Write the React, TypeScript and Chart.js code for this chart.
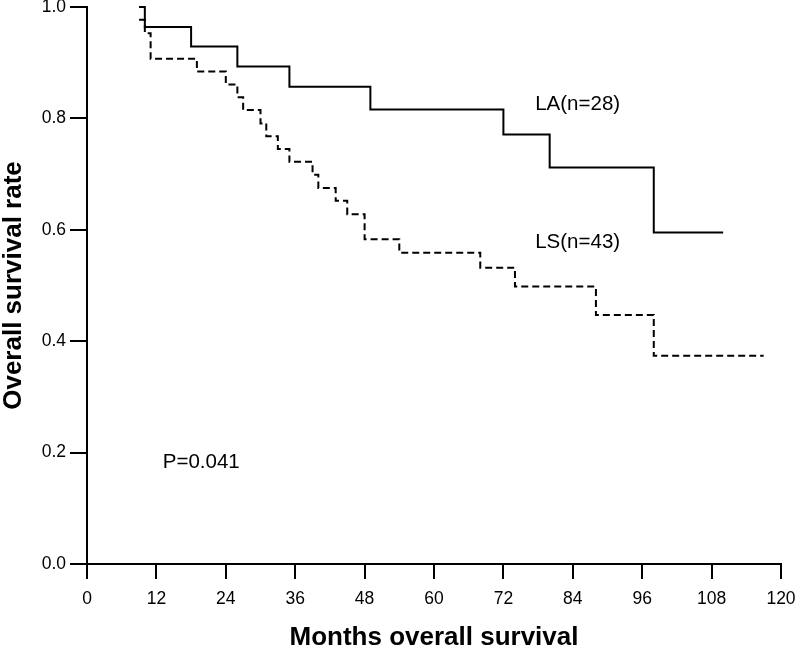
import React, { useEffect, useRef } from "react";
import { Chart, registerables } from "chart.js";

Chart.register(...registerables);

// LA group (solid): times (months) and survival after each step
const laTimes = [9, 10, 18, 26, 35, 49, 72, 80, 98, 110];
const laSurvival = [1.0, 0.964, 0.929, 0.893, 0.857, 0.816, 0.771, 0.712, 0.595, 0.595];

// LS group (dashed)
const lsTimes = [9, 10, 11, 19, 24, 26, 27, 30, 31, 33, 35, 39, 40, 43, 45, 48, 54, 68, 74, 88, 98, 117];
const lsSurvival = [0.977, 0.953, 0.907, 0.884, 0.861, 0.838, 0.815, 0.791, 0.768, 0.745, 0.722, 0.699, 0.675, 0.652, 0.628, 0.583, 0.559, 0.532, 0.498, 0.447, 0.374, 0.374];

const xTickValues = [0, 12, 24, 36, 48, 60, 72, 84, 96, 108, 120];
const yTickValues = [0.0, 0.2, 0.4, 0.6, 0.8, 1.0];

const xTitle = "Months overall survival";
const yTitle = "Overall survival rate";
const laLabel = "LA(n=28)";
const lsLabel = "LS(n=43)";
const pLabel = "P=0.041";

const FONT = "'Liberation Sans', Arial, Helvetica, sans-serif";

const textPlugin = {
  id: "kmText",
  afterDraw(chart: any) {
    const { ctx, chartArea, scales } = chart;
    const xs = scales.x;
    const ys = scales.y;
    ctx.save();
    ctx.fillStyle = "#000";
    ctx.textBaseline = "alphabetic";
    // axis titles
    ctx.font = `bold 26px ${FONT}`;
    ctx.textAlign = "center";
    ctx.fillText(xTitle, (chartArea.left + chartArea.right) / 2, 645);
    ctx.save();
    ctx.translate(21, (chartArea.top + chartArea.bottom) / 2);
    ctx.rotate(-Math.PI / 2);
    ctx.fillText(yTitle, 0, 0);
    ctx.restore();
    // annotations
    ctx.font = `20.5px ${FONT}`;
    ctx.textAlign = "left";
    ctx.fillText(laLabel, xs.getPixelForValue(77.5), ys.getPixelForValue(0.815));
    ctx.fillText(lsLabel, xs.getPixelForValue(77.5), ys.getPixelForValue(0.568));
    ctx.fillText(pLabel, xs.getPixelForValue(13.1), ys.getPixelForValue(0.173));
    ctx.restore();
  },
};

export default function App() {
  const canvasRef = useRef<HTMLCanvasElement | null>(null);

  useEffect(() => {
    if (!canvasRef.current) return;
    const chart = new Chart(canvasRef.current, {
      type: "line",
      data: {
        datasets: [
          {
            label: laLabel,
            data: laTimes.map((t, i) => ({ x: t, y: laSurvival[i] })),
            borderColor: "#000",
            borderWidth: 2,
            pointRadius: 0,
            stepped: "before",
            fill: false,
            clip: 6,
          },
          {
            label: lsLabel,
            data: lsTimes.map((t, i) => ({ x: t, y: lsSurvival[i] })),
            borderColor: "#000",
            borderWidth: 2,
            borderDash: [7, 4],
            pointRadius: 0,
            stepped: "before",
            fill: false,
            clip: 6,
          },
        ],
      },
      options: {
        animation: false,
        responsive: true,
        maintainAspectRatio: false,
        layout: { padding: { top: 7, right: 15, left: 0, bottom: 0 } },
        plugins: {
          legend: { display: false },
          tooltip: { enabled: false },
          title: { display: false },
        },
        scales: {
          x: {
            type: "linear",
            min: 0,
            max: 120,
            afterBuildTicks: (scale: any) => {
              scale.ticks = xTickValues.map((v) => ({ value: v }));
            },
            afterFit: (scale: any) => {
              scale.height = 83;
              scale.paddingLeft = 0;
              scale.paddingRight = 0;
            },
            ticks: {
              color: "#000",
              font: { family: FONT, size: 17.5 },
              padding: 10,
              maxRotation: 0,
              autoSkip: false,
              callback: (v: any) => String(v),
            },
            grid: {
              display: true,
              drawOnChartArea: false,
              drawTicks: true,
              tickLength: 15,
              color: "#000",
              lineWidth: 2,
            },
            border: { display: true, color: "#000", width: 2 },
          },
          y: {
            type: "linear",
            min: 0,
            max: 1,
            afterBuildTicks: (scale: any) => {
              scale.ticks = yTickValues.map((v) => ({ value: v }));
            },
            afterFit: (scale: any) => {
              scale.width = 87;
              scale.paddingTop = 0;
              scale.paddingBottom = 0;
            },
            ticks: {
              color: "#000",
              font: { family: FONT, size: 17.5 },
              padding: 4,
              autoSkip: false,
              callback: (v: any) => Number(v).toFixed(1),
            },
            grid: {
              display: true,
              drawOnChartArea: false,
              drawTicks: true,
              tickLength: 17,
              color: "#000",
              lineWidth: 2,
            },
            border: { display: true, color: "#000", width: 2 },
          },
        },
      },
      plugins: [textPlugin],
    });
    return () => chart.destroy();
  }, []);

  return (
    <div
      style={{
        position: "fixed",
        left: 0,
        top: 0,
        width: "796px",
        height: "647px",
        background: "#fff",
      }}
    >
      <canvas ref={canvasRef} />
    </div>
  );
}
